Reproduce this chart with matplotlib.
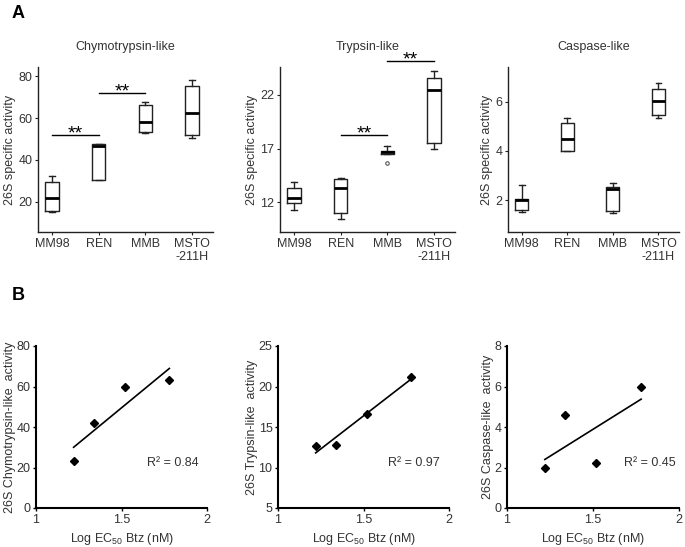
import matplotlib
matplotlib.use("Agg")
import matplotlib.pyplot as plt
import numpy as np

plt.rcParams["font.family"] = ["Liberation Sans", "DejaVu Sans"]
plt.rcParams["mathtext.default"] = "regular"
plt.rcParams["font.size"] = 9

# ---------------------------------------------------------------------------
# Data
# ---------------------------------------------------------------------------
cell_lines = ["MM98", "REN", "MMB", "MSTO\n-211H"]

# five-number summaries per cell line: [whisker low, q1, median, q3, whisker high]
chymo_box = [[15.3, 15.6, 21.9, 29.4, 32.5],
             [30.6, 30.6, 46.5, 47.6, 47.8],
             [53.0, 53.3, 58.2, 66.0, 67.5],
             [50.4, 51.7, 62.6, 75.3, 78.0]]
trypsin_box = [[11.3, 11.9, 12.4, 13.34, 13.87],
               [10.47, 11.03, 13.37, 14.2, 14.27],
               [16.5, 16.5, 16.64, 16.77, 17.23],
               [17.0, 17.55, 22.47, 23.56, 24.24]]
trypsin_outliers = [[], [], [15.7], []]
caspase_box = [[1.52, 1.59, 2.0, 2.04, 2.61],
               [4.01, 4.01, 4.49, 5.15, 5.32],
               [1.49, 1.56, 2.45, 2.54, 2.71],
               [5.32, 5.46, 6.01, 6.52, 6.77]]

# significance brackets: (from group, to group, height)
chymo_sig = [(1, 2, 52.0), (2, 3, 71.8)]
trypsin_sig = [(2, 3, 18.26), (3, 4, 25.2)]
caspase_sig = []

# correlation with log EC50 of bortezomib
log_ec50 = [1.22, 1.34, 1.52, 1.78]
chymo_mean = [23.0, 42.0, 59.7, 63.4]
trypsin_mean = [12.6, 12.8, 16.6, 21.2]
caspase_mean = [2.0, 4.6, 2.2, 6.0]
r2_values = [0.84, 0.97, 0.45]

TEXT = "#333333"
LINE = "#222222"


def box_panel(ax, boxes, outliers, sig, title, ylim, yticks):
    stats = []
    for i, b in enumerate(boxes):
        stats.append({"whislo": b[0], "q1": b[1], "med": b[2], "q3": b[3],
                      "whishi": b[4], "fliers": outliers[i] if outliers else []})
    ax.bxp(stats, positions=range(1, 5), widths=0.28, showfliers=True,
           boxprops=dict(color=LINE, linewidth=1.0),
           whiskerprops=dict(color=LINE, linewidth=1.0),
           capprops=dict(color=LINE, linewidth=1.0),
           medianprops=dict(color="black", linewidth=2.0),
           flierprops=dict(marker="o", markersize=2.5, markerfacecolor="none",
                           markeredgecolor="#555555", markeredgewidth=0.8),
           capwidths=0.13)
    for a, b, h in sig:
        ax.plot([a, b], [h, h], color="black", lw=1.0, clip_on=False)
        ax.annotate("**", xy=((a + b) / 2, h), xytext=(0, -2.5), textcoords="offset points",
                    ha="center", va="baseline", fontsize=14, color="black",
                    annotation_clip=False)
    ax.set_xlim(0.7, 4.45)
    ax.set_ylim(*ylim)
    ax.set_yticks(yticks)
    ax.set_xticks(range(1, 5))
    ax.set_xticklabels(cell_lines)
    ax.set_ylabel("26S specific activity", color=TEXT, fontsize=9, labelpad=1.5)
    ax.set_title(title, color=TEXT, fontsize=9, pad=12)
    for side in ["top", "right"]:
        ax.spines[side].set_visible(False)
    for side in ["left", "bottom"]:
        ax.spines[side].set_color(LINE)
        ax.spines[side].set_linewidth(1.0)
    ax.tick_params(colors=LINE, labelcolor=TEXT, labelsize=9, length=2.5, width=0.8,
                   pad=1.5)


def scatter_panel(ax, x, y, ylabel, ylim, yticks, r2, text_pos):
    ax.plot(x, y, "D", color="black", markersize=4.5)
    slope, intercept = np.polyfit(x, y, 1)
    xs = np.array([min(x), max(x)])
    ax.plot(xs, slope * xs + intercept, color="black", lw=1.2)
    ax.text(text_pos[0], text_pos[1], f"R² = {r2:.2f}", ha="left", va="center",
            fontsize=9, color=TEXT)
    ax.set_xlim(1, 2)
    ax.set_ylim(*ylim)
    ax.set_xticks([1, 1.5, 2])
    ax.set_xticklabels(["1", "1.5", "2"])
    ax.set_yticks(yticks)
    ax.set_xlabel("Log EC$_{50}$ Btz (nM)", color=TEXT, fontsize=9, labelpad=4)
    ax.set_ylabel(ylabel, color=TEXT, fontsize=9, labelpad=0.5)
    for side in ["top", "right"]:
        ax.spines[side].set_visible(False)
    for side in ["left", "bottom"]:
        ax.spines[side].set_color("black")
        ax.spines[side].set_linewidth(1.5)
    ax.tick_params(colors="black", labelcolor=TEXT, labelsize=9, length=2.5, width=1.0,
                   pad=1.5)


def main() -> None:
    fig = plt.figure(figsize=(6.85, 5.47), dpi=100)
    W, H = 685, 547

    def add_axes(x0, x1, y0, y1):
        return fig.add_axes([x0 / W, 1 - y1 / H, (x1 - x0) / W, (y1 - y0) / H])

    # Panel A: box plots
    ax1 = add_axes(38, 213, 67, 232)
    box_panel(ax1, chymo_box, None, chymo_sig, "Chymotrypsin-like",
              (5.7, 84.3), [20, 40, 60, 80])
    ax2 = add_axes(280, 455, 67, 232)
    box_panel(ax2, trypsin_box, trypsin_outliers, trypsin_sig, "Trypsin-like",
              (9.23, 24.6), [12, 17, 22])
    ax3 = add_axes(508, 679, 67, 232)
    box_panel(ax3, caspase_box, None, caspase_sig, "Caspase-like",
              (0.71, 7.41), [2, 4, 6])

    # Panel B: correlations
    bx1 = add_axes(36, 207, 346, 508)
    scatter_panel(bx1, log_ec50, chymo_mean, "26S Chymotrypsin-like  activity",
                  (0, 80), [0, 20, 40, 60, 80], r2_values[0], (1.65, 22))
    bx2 = add_axes(278, 449, 346, 508)
    scatter_panel(bx2, log_ec50, trypsin_mean, "26S Trypsin-like  activity",
                  (5, 25), [5, 10, 15, 20, 25], r2_values[1], (1.645, 10.6))
    bx3 = add_axes(507, 679, 346, 508)
    scatter_panel(bx3, log_ec50, caspase_mean, "26S Caspase-like  activity",
                  (0, 8), [0, 2, 4, 6, 8], r2_values[2], (1.68, 2.2))

    fig.text(12 / W, 1 - 13 / H, "A", fontsize=13, fontweight="bold", va="center")
    fig.text(12 / W, 1 - 296 / H, "B", fontsize=13, fontweight="bold", va="center")

    fig.savefig("out.png", dpi=100)


if __name__ == "__main__":
    main()
